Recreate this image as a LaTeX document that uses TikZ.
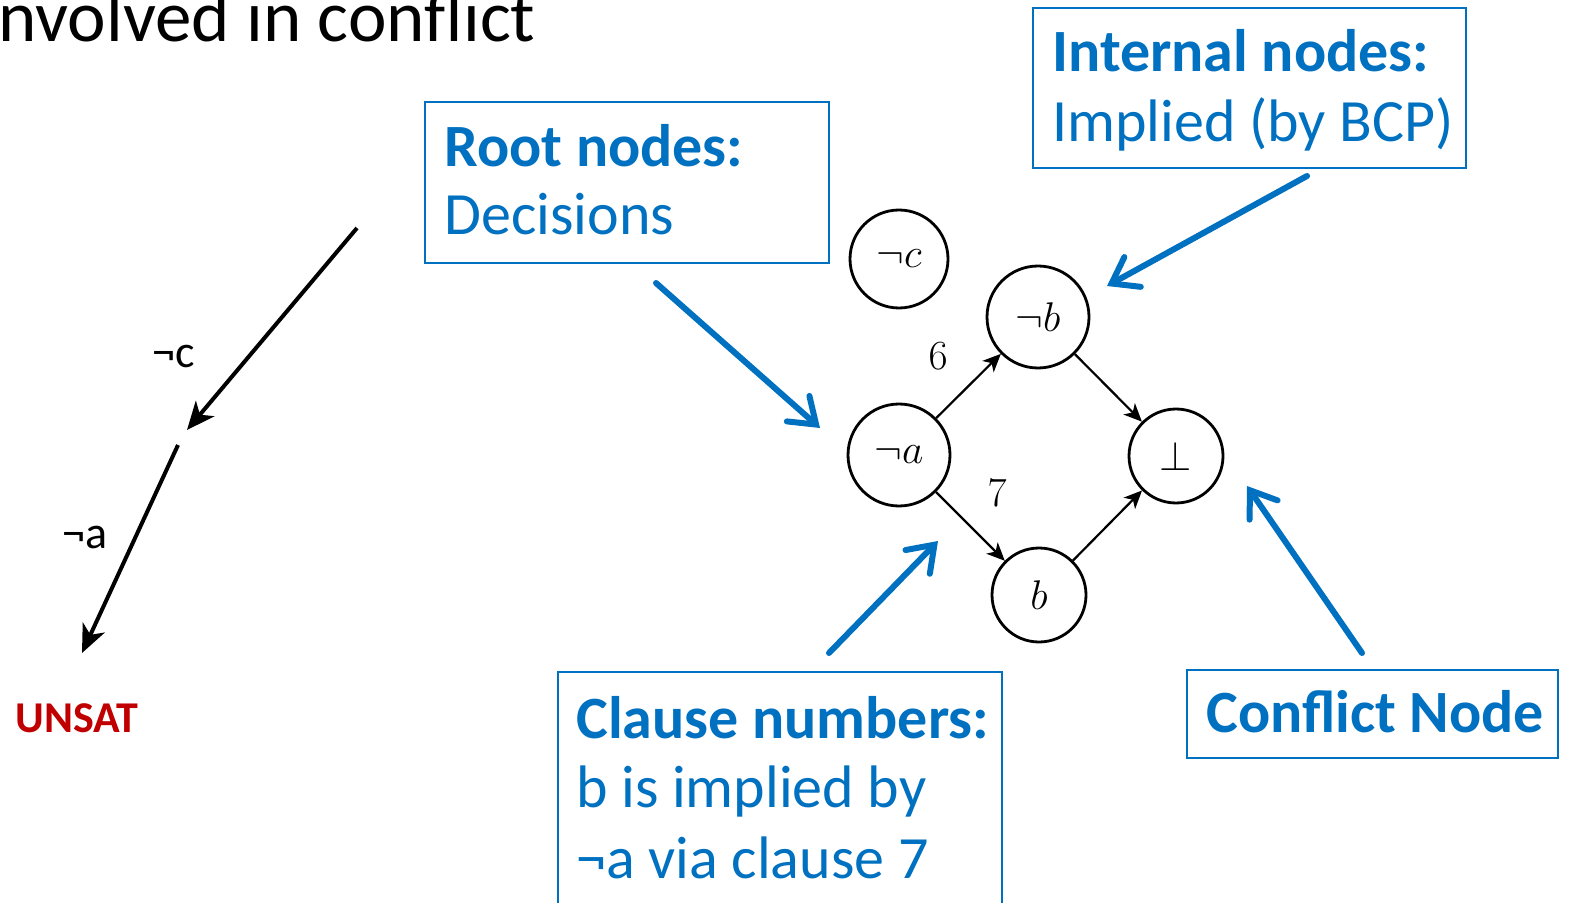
\documentclass[tikz,border=0pt]{standalone}
\usepackage{fontspec}
\setmainfont{Carlito}
\usetikzlibrary{arrows.meta}

\definecolor{calloutblue}{HTML}{0070C0}
\definecolor{unsatred}{HTML}{C00000}

\newcommand\boxfont{\fontsize{30}{36}\selectfont}
\newcommand\titlefont{\fontsize{36.5}{42}\selectfont}
\newcommand\treefont{\fontsize{23}{28}\selectfont}
\newcommand\graphfont{\fontsize{22}{26}\selectfont}
\newcommand\numfont{\fontsize{22}{26}\selectfont}

\tikzset{
  calloutbox/.style={draw=calloutblue, line width=1pt, anchor=north west,
    inner sep=0pt, rectangle},
  callouttext/.style={anchor=base west, inner sep=0pt, text=calloutblue, font=\boxfont},
  callarrow/.style={draw=calloutblue, line width=3pt, line cap=round,
    -{Straight Barb[length=12pt, width=17pt, line cap=round]}},
  treearrow/.style={draw=black, line width=2pt,
    -{Stealth[length=14pt, width=12pt, inset=4pt]}},
  treelabel/.style={anchor=base west, inner sep=0pt, font=\treefont},
  litnode/.style={draw, circle, line width=1.4pt, inner sep=0pt, font=\graphfont},
  implarrow/.style={line width=1.1pt, -{Stealth[length=9pt, width=8pt, inset=2.5pt]}},
  clausenum/.style={inner sep=0pt, font=\numfont}
}

\begin{document}
\begin{tikzpicture}[x=0.5pt, y=-0.5pt]
  \clip (0,0) rectangle (1573,903);

  % heading line, partly cut by the frame
  \node[anchor=base west, inner sep=0pt, font=\titlefont] (heading) at (-2,42) {nvolved in conflict};

  % search tree: decisions leading to UNSAT
  \coordinate (treetop) at (357,228);
  \coordinate (treemid) at (187,430);
  \coordinate (treemid2) at (178,445);
  \coordinate (treeend) at (82,653);
  \draw[treearrow] (treetop) -- (treemid);
  \draw[treearrow] (treemid2) -- (treeend);
  \node[treelabel] (negc) at (152,368) {¬c};
  \node[treelabel] (nega) at (62,548) {¬a};
  \node[anchor=base west, inner sep=0pt, font=\fontsize{22}{27}\selectfont\bfseries, text=unsatred] (unsat) at (15,732) {UNSAT};

  % implication graph
  \node[litnode, minimum size=49pt] (c)   at (899,259) {$\neg c$};
  \node[litnode, minimum size=51pt] (nb)  at (1038,317) {$\neg b$};
  \node[litnode, minimum size=51pt] (na)  at (899,455) {$\neg a$};
  \node[litnode, minimum size=47pt] (bot) at (1176,456) {$\bot$};
  \node[litnode, minimum size=47pt] (b)   at (1039,595) {$b$};
  \draw[implarrow] (na) -- (nb);
  \draw[implarrow] (na) -- (b);
  \draw[implarrow] (nb) -- (bot);
  \draw[implarrow] (b) -- (bot);
  \node[clausenum] (six) at (938,356) {$6$};
  \node[clausenum] (seven) at (997,493) {$7$};

  % callout: root nodes
  \node[calloutbox, minimum width=202pt, minimum height=80.5pt] (rootbox) at (424,101) {};
  \node[callouttext] (roottitle) at (444,167) {\bfseries Root nodes:};
  \node[callouttext] (rootbody) at (444,235) {Decisions};

  % callout: internal nodes
  \node[calloutbox, minimum width=216.5pt, minimum height=80pt] (intbox) at (1032,7) {};
  \node[callouttext] (inttitle) at (1052,72) {\bfseries Internal nodes:};
  \node[callouttext] (intbody) at (1052,142) {Implied (by BCP)};

  % callout: clause numbers
  \node[calloutbox, minimum width=222pt, minimum height=120pt] (clbox) at (557,671) {};
  \node[callouttext] (cltitle) at (576,738) {\bfseries Clause numbers:};
  \node[callouttext] (clbody1) at (576,807) {b is implied by};
  \node[callouttext] (clbody2) at (576,878) {¬a via clause 7};

  % callout: conflict node
  \node[calloutbox, minimum width=185.5pt, minimum height=44pt] (cfbox) at (1186,669) {};
  \node[callouttext] (cftitle) at (1206,732) {\bfseries Conflict Node};

  % pointers from the callouts
  \coordinate (rootfrom) at (656,283);
  \coordinate (rootto) at (820,428);
  \coordinate (intfrom) at (1307,176);
  \coordinate (intto) at (1107,286);
  \coordinate (clfrom) at (829,653);
  \coordinate (clto) at (938,541);
  \coordinate (cffrom) at (1362,653);
  \coordinate (cfto) at (1247,486);
  \draw[callarrow] (rootfrom) -- (rootto);
  \draw[callarrow] (intfrom) -- (intto);
  \draw[callarrow] (clfrom) -- (clto);
  \draw[callarrow] (cffrom) -- (cfto);
\end{tikzpicture}
\end{document}
